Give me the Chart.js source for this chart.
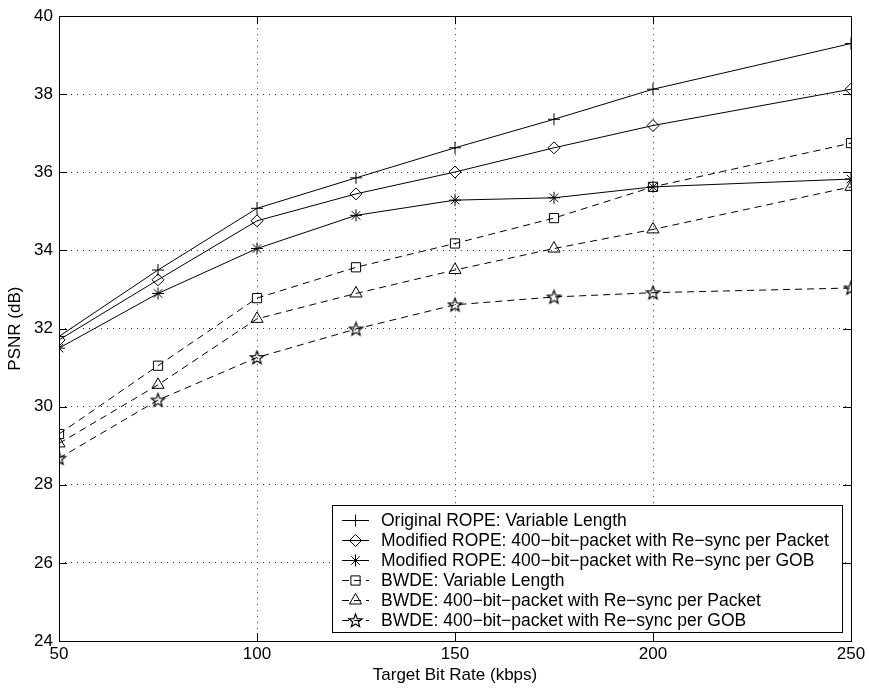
<!DOCTYPE html>
<html>
<head>
<meta charset="utf-8">
<script src="https://cdn.jsdelivr.net/npm/chart.js@4.4.0/dist/chart.umd.min.js"></script>
<style>
  body { margin: 0; background: #fff; }
  canvas { display: block; }
</style>
</head>
<body>
<canvas id="psnrChart" width="869" height="689"></canvas>
<script>
const rates = [50, 75, 100, 125, 150, 175, 200, 250];
const origRope = [31.8, 33.5, 35.08, 35.86, 36.63, 37.36, 38.13, 39.3];
const modRopePacket = [31.71, 33.25, 34.76, 35.45, 36.01, 36.63, 37.2, 38.13];
const modRopeGob = [31.5, 32.9, 34.05, 34.9, 35.29, 35.35, 35.63, 35.83];
const bwdeVar = [29.3, 31.05, 32.78, 33.57, 34.18, 34.83, 35.63, 36.75];
const bwdePacket = [29.06, 30.56, 32.25, 32.9, 33.5, 34.05, 34.54, 35.63];
const bwdeGob = [28.68, 30.17, 31.26, 31.99, 32.61, 32.81, 32.92, 33.04];

const xTicks = [50, 100, 150, 200, 250];
const yTicks = [24, 26, 28, 30, 32, 34, 36, 38, 40];

const labels = [
    'Original ROPE: Variable Length',
    'Modified ROPE: 400\u2212bit\u2212packet with Re\u2212sync per Packet',
    'Modified ROPE: 400\u2212bit\u2212packet with Re\u2212sync per GOB',
    'BWDE: Variable Length',
    'BWDE: 400\u2212bit\u2212packet with Re\u2212sync per Packet',
    'BWDE: 400\u2212bit\u2212packet with Re\u2212sync per GOB'
];

const FONT = '"Liberation Sans", Arial, Helvetica, sans-serif';

// outlined five point star (matlab 'p' marker)
function makePentagram(r) {
    const s = Math.ceil(r * 2 + 3);
    const c = document.createElement('canvas');
    c.width = s;
    c.height = s;
    const g = c.getContext('2d');
    g.beginPath();
    for (let i = 0; i < 10; i++) {
        const a = -Math.PI / 2 + i * Math.PI / 5;
        const rr = i % 2 ? r * 0.42 : r;
        const px = s / 2 + rr * Math.cos(a);
        const py = s / 2 + 0.5 + rr * Math.sin(a);
        if (i === 0) g.moveTo(px, py); else g.lineTo(px, py);
    }
    g.closePath();
    g.strokeStyle = '#000';
    g.lineWidth = 1.2;
    g.stroke();
    return c;
}

const pentagram = makePentagram(7);

function series(values, label, style, radius, dashed) {
    return {
        label: label,
        data: rates.map((r, i) => ({ x: r, y: values[i] })),
        borderColor: '#000',
        borderWidth: 1,
        borderDash: dashed ? [7, 5] : [],
        pointStyle: style,
        pointRadius: radius,
        pointBorderColor: '#000',
        pointBackgroundColor: 'rgba(0,0,0,0)',
        pointBorderWidth: 1,
        tension: 0,
        fill: false
    };
}

// box, inward ticks and the legend, matlab style
const matlabFrame = {
    id: 'matlabFrame',
    afterDatasetsDraw(chart) {
        const ctx = chart.ctx;
        const a = chart.chartArea;
        const xs = chart.scales.x;
        const ys = chart.scales.y;
        ctx.save();
        ctx.strokeStyle = '#000';
        ctx.lineWidth = 1;
        ctx.setLineDash([]);
        ctx.beginPath();
        xTicks.forEach(v => {
            const px = Math.round(xs.getPixelForValue(v)) + 0.5;
            ctx.moveTo(px, a.bottom); ctx.lineTo(px, a.bottom - 8);
            ctx.moveTo(px, a.top); ctx.lineTo(px, a.top + 8);
        });
        yTicks.forEach(v => {
            const py = Math.round(ys.getPixelForValue(v)) + 0.5;
            ctx.moveTo(a.left, py); ctx.lineTo(a.left + 8, py);
            ctx.moveTo(a.right, py); ctx.lineTo(a.right - 8, py);
        });
        ctx.stroke();
        ctx.strokeRect(Math.round(a.left) + 0.5, Math.round(a.top) + 0.5,
            Math.round(a.right - a.left), Math.round(a.bottom - a.top));

        // legend box
        const bx = 332.5, by = 505.5, bw = 510, bh = 127;
        ctx.fillStyle = '#fff';
        ctx.fillRect(bx, by, bw, bh);
        ctx.strokeRect(bx, by, bw, bh);
        ctx.font = '17.5px ' + FONT;
        ctx.textBaseline = 'middle';
        chart.data.datasets.forEach((ds, i) => {
            const ry = Math.round(by + 14 + i * 20);
            ctx.strokeStyle = '#000';
            ctx.setLineDash(ds.borderDash);
            ctx.beginPath();
            ctx.moveTo(342, ry + 0.5);
            ctx.lineTo(369, ry + 0.5);
            ctx.stroke();
            ctx.setLineDash([]);
            ctx.fillStyle = 'rgba(0,0,0,0)';
            Chart.helpers.drawPoint(ctx, {
                pointStyle: ds.pointStyle,
                radius: ds.pointRadius,
                borderWidth: 1,
                rotation: 0
            }, 355.5, ry + 0.5);
            ctx.fillStyle = '#000';
            ctx.fillText(ds.label, 381, ry + 1);
        });
        ctx.restore();
    }
};

new Chart(document.getElementById('psnrChart'), {
    type: 'line',
    data: {
        datasets: [
            series(origRope, labels[0], 'cross', 6, false),
            series(modRopePacket, labels[1], 'rectRot', 6, false),
            series(modRopeGob, labels[2], 'star', 6, false),
            series(bwdeVar, labels[3], 'rect', 6.5, true),
            series(bwdePacket, labels[4], 'triangle', 7, true),
            series(bwdeGob, labels[5], pentagram, 7, true)
        ]
    },
    options: {
        responsive: false,
        animation: false,
        layout: {
            padding: { top: 15, right: 18, left: 0, bottom: 0 }
        },
        plugins: {
            legend: { display: false },
            tooltip: { enabled: false }
        },
        scales: {
            x: {
                type: 'linear',
                min: 50,
                max: 250,
                afterFit: s => { s.height = 48; },
                afterBuildTicks: s => { s.ticks = xTicks.map(v => ({ value: v })); },
                grid: {
                    color: '#333',
                    lineWidth: 1,
                    drawTicks: false
                },
                border: { display: false, dash: [1, 5] },
                ticks: {
                    color: '#000',
                    padding: 3,
                    maxRotation: 0,
                    font: { family: FONT, size: 17 }
                },
                title: {
                    display: true,
                    text: 'Target Bit Rate (kbps)',
                    color: '#000',
                    padding: { top: 0, bottom: 3 },
                    font: { family: FONT, size: 17 }
                }
            },
            y: {
                min: 24,
                max: 40,
                afterFit: s => { s.width = 59; },
                afterBuildTicks: s => { s.ticks = yTicks.map(v => ({ value: v })); },
                grid: {
                    color: '#333',
                    lineWidth: 1,
                    drawTicks: false
                },
                border: { display: false, dash: [1, 5] },
                ticks: {
                    color: '#000',
                    padding: 6,
                    font: { family: FONT, size: 17 }
                },
                title: {
                    display: true,
                    text: 'PSNR (dB)',
                    color: '#000',
                    padding: { top: 5, bottom: 0 },
                    font: { family: FONT, size: 17 }
                }
            }
        }
    },
    plugins: [matlabFrame]
});
</script>
</body>
</html>
